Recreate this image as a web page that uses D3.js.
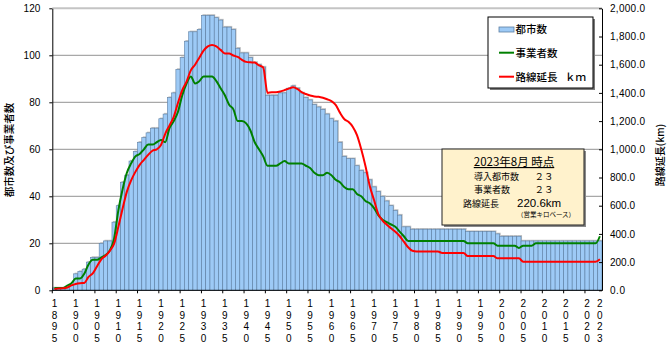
<!DOCTYPE html>
<html><head><meta charset="utf-8">
<script src="https://cdn.jsdelivr.net/npm/d3@7"></script>
<style>
html,body{margin:0;padding:0;background:#fff;}
svg{display:block;}
</style></head><body>
<svg id="chart" width="670" height="347"></svg>
<script>
const startYear = 1895, endYear = 2023;
const years = d3.range(startYear, endYear + 1);

// 都市数 (bars, left axis)
const cities = [
  1,1,1,1,2,7,8,9,12,14,
  14,20,21,21,29,36,46,49,55,59,
  63,65,67,69,69,73,75,82,84,94,
  99,106,110,110,111,117,117,117,116,115,
  112,112,111,103,101,101,99,97,96,95,
  83,83,83,84,84,86,87,86,84,82,
  81,79,78,77,75,73,72,63,57,56,
  56,53,51,50,47,44,42,40,38,36,
  34,32,27,27,26,26,26,26,26,26,
  26,26,26,26,26,26,26,25,25,25,
  25,25,25,25,24,23,23,23,23,23,
  21,21,21,21,21,21,21,21,21,21,
  21,21,21,21,21,21,21,21,21
];
// 事業者数 (green line, left axis)
const operators = [
  1,1,1,2,3,5,5,7,11,13,
  13,14,15,17,22,34,43,50,54,57,
  58,60,62,62,63,64,63,69,72,76,
  83,88,91,88,89,91,91,91,89,86,
  83,79,77,72,72,71,68,63,60,57,
  53,53,53,54,55,54,54,54,54,53,
  52,50,49,49,50,49,47,46,44,43,
  43,41,40,38,37,35,32,30,29,28,
  27,25,23,21,21,21,21,21,21,21,
  21,21,21,21,21,21,21,20,20,20,
  20,20,20,20,19,19,19,19,19,18,
  19,19,19,20,20,20,20,20,20,20,
  20,20,20,20,20,20,20,20,23
];
// 路線延長 km (red line, right axis)
const routeKm = [
  10,12,14,20,35,45,50,52,95,120,
  170,220,245,280,330,450,580,700,780,840,
  890,925,960,990,1000,1030,1110,1170,1230,1330,
  1420,1480,1560,1600,1650,1700,1730,1740,1730,1705,
  1680,1680,1665,1655,1635,1620,1617,1615,1595,1580,
  1400,1405,1405,1410,1420,1430,1440,1428,1405,1392,
  1382,1375,1372,1365,1355,1342,1315,1260,1215,1195,
  1160,1100,1000,880,740,640,540,495,465,440,
  415,385,345,305,280,275,275,275,275,275,
  275,265,265,265,265,265,265,243,243,243,
  243,243,243,243,227,227,227,227,227,227,
  203,203,203,203,203,203,203,203,203,203,
  203,203,203,203,203,203,203,203,220.6
];
const leftTicks = [0,20,40,60,80,100,120];
const rightTicks = [0,200,400,600,800,1000,1200,1400,1600,1800,2000];
const xLabelYears = years.filter(y => (y - startYear) % 5 === 0).concat([2023]);
const xTickYears = years.filter(y => (y - startYear) % 5 === 0);
const seriesNames = ["都市数", "事業者数", "路線延長\u2002 ｋｍ"];
const infoTitle = "2023年8月 時点";
const infoRows = [["導入都市数", "２３"], ["事業者数", "２３"], ["路線延長", "220.6km"]];
const infoNote = "（営業キロベース）";

const plot = {left: 52.3, right: 602, top: 8.3, bottom: 290.3};
const svg = d3.select("#chart");
const JP = "'Noto Sans CJK JP', 'Noto Sans', sans-serif";
const LAT = "'Liberation Sans', Arial, sans-serif";

const x = d3.scaleBand().domain(years).range([plot.left, plot.right]).padding(0);
const yL = d3.scaleLinear().domain([0, 120]).range([plot.bottom, plot.top]);
const yR = d3.scaleLinear().domain([0, 2000]).range([plot.bottom, plot.top]);
const bw = x.bandwidth();

// gridlines
svg.append("g").selectAll("line").data(leftTicks.filter(d => d > 0)).join("line")
  .attr("x1", plot.left).attr("x2", plot.right)
  .attr("y1", d => yL(d)).attr("y2", d => yL(d))
  .attr("stroke", d => d === 120 ? "#c4c4c4" : "#a8a8a8")
  .attr("stroke-width", d => d === 120 ? 2 : 1.3);

const barData = years.map((y, i) => ({year: y, v: cities[i]}));
// bar shadow
svg.append("g").selectAll("rect").data(barData).join("rect")
  .attr("x", d => x(d.year) + 1).attr("y", d => yL(d.v) - 1.2)
  .attr("width", bw).attr("height", d => plot.bottom - yL(d.v) + 1.2)
  .attr("fill", "#c3c3c3");
// bars
svg.append("g").selectAll("rect").data(barData).join("rect")
  .attr("x", d => x(d.year)).attr("y", d => yL(d.v))
  .attr("width", bw).attr("height", d => plot.bottom - yL(d.v))
  .attr("fill", "#9dcaf6").attr("stroke", "#5d7fa3").attr("stroke-width", 0.6);

// lines
const cx = i => x(years[i]) + bw / 2;
const lineG = d3.line().x((d, i) => cx(i)).y(d => yL(d)).curve(d3.curveMonotoneX);
const lineR = d3.line().x((d, i) => cx(i)).y(d => yR(d)).curve(d3.curveMonotoneX);
svg.append("path").attr("d", lineG(operators)).attr("fill", "none")
  .attr("stroke", "#008000").attr("stroke-width", 2);
svg.append("path").attr("d", lineR(routeKm)).attr("fill", "none")
  .attr("stroke", "#ff0000").attr("stroke-width", 2);

// left axis
const gL = svg.append("g").attr("transform", `translate(${plot.left},0)`)
  .call(d3.axisLeft(yL).tickValues(leftTicks).tickSizeInner(3).tickSizeOuter(0).tickPadding(9));
gL.select(".domain").attr("stroke", "#000");
gL.selectAll(".tick line").attr("stroke", "#000");
gL.selectAll("text").attr("font-family", LAT).attr("font-size", 10).attr("fill", "#000");

// right axis
const gR = svg.append("g").attr("transform", `translate(${plot.right},0)`)
  .call(d3.axisRight(yR).tickValues(rightTicks).tickSizeInner(-3).tickSizeOuter(0).tickPadding(8)
    .tickFormat(d3.format(",.1f")));
gR.select(".domain").attr("stroke", "#000");
gR.selectAll(".tick line").attr("stroke", "#000");
gR.selectAll("text").attr("font-family", LAT).attr("font-size", 10).attr("fill", "#000")
  .attr("textLength", function() { return this.textContent.length * 5; })
  .attr("lengthAdjust", "spacing");

// bottom axis
const gB = svg.append("g");
gB.append("line").attr("x1", plot.left).attr("x2", plot.right)
  .attr("y1", plot.bottom).attr("y2", plot.bottom).attr("stroke", "#000");
gB.selectAll("line.tk").data(xTickYears).join("line").attr("class", "tk")
  .attr("x1", d => x(d)).attr("x2", d => x(d))
  .attr("y1", plot.bottom).attr("y2", plot.bottom + 3).attr("stroke", "#000");
const lab = gB.selectAll("text").data(xLabelYears).join("text")
  .attr("font-family", LAT).attr("font-size", 10).attr("text-anchor", "middle").attr("fill", "#000");
lab.each(function(d) {
  const t = d3.select(this);
  String(d).split("").forEach((c, k) => {
    t.append("tspan").attr("x", x(d) + bw / 2).attr("y", 307 + k * 11.6).text(c);
  });
});

// axis titles
svg.append("text").attr("transform", "translate(13,150) rotate(-90)")
  .attr("text-anchor", "middle").attr("font-family", JP).attr("font-size", 10.5)
  .attr("font-weight", 500).attr("fill", "#000").text("都市数及び事業者数");
svg.append("text").attr("transform", "translate(664,155) rotate(-90)")
  .attr("text-anchor", "middle").attr("font-family", JP).attr("font-size", 10)
  .attr("font-weight", 500).attr("fill", "#000").text("路線延長(km)");

// legend
const lg = svg.append("g");
lg.append("rect").attr("x", 490).attr("y", 19).attr("width", 105).attr("height", 71).attr("fill", "#7a7a7a");
lg.append("rect").attr("x", 488).attr("y", 17).attr("width", 105).attr("height", 71)
  .attr("fill", "#fff").attr("stroke", "#000").attr("stroke-width", 1);
const ly = [29.5, 52.7, 76.7];
lg.append("rect").attr("x", 499).attr("y", ly[0] - 2.5).attr("width", 15).attr("height", 5)
  .attr("fill", "#9dcaf6").attr("stroke", "#5d7fa3").attr("stroke-width", 0.8);
lg.append("line").attr("x1", 499).attr("x2", 514).attr("y1", ly[1]).attr("y2", ly[1])
  .attr("stroke", "#008000").attr("stroke-width", 2);
lg.append("line").attr("x1", 499).attr("x2", 514).attr("y1", ly[2]).attr("y2", ly[2])
  .attr("stroke", "#ff0000").attr("stroke-width", 2);
lg.selectAll("text").data(seriesNames).join("text")
  .attr("x", 515.5).attr("y", (d, i) => ly[i] + 3.8)
  .attr("font-family", JP).attr("font-size", 10.5).attr("font-weight", 500).attr("fill", "#000")
  .text(d => d);

// info box
const ib = svg.append("g");
ib.append("rect").attr("x", 444).attr("y", 151).attr("width", 142).attr("height", 76).attr("fill", "#8a8a8a");
ib.append("rect").attr("x", 442).attr("y", 149).attr("width", 142).attr("height", 76)
  .attr("fill", "#fff2cc").attr("stroke", "#222").attr("stroke-width", 1);
ib.append("text").attr("x", 514).attr("y", 166).attr("text-anchor", "middle")
  .attr("font-family", JP).attr("font-size", 11.5).attr("fill", "#000")
  .attr("text-decoration", "underline").text(infoTitle);
const rowY = [180, 193, 206.5];
ib.selectAll("text.lbl").data(infoRows).join("text").attr("class", "lbl")
  .attr("x", (d, i) => i === 2 ? 463 : 474).attr("y", (d, i) => rowY[i])
  .attr("font-family", JP).attr("font-size", 9).attr("fill", "#000").text(d => d[0]);
ib.selectAll("text.val").data(infoRows).join("text").attr("class", "val")
  .attr("x", (d, i) => i === 2 ? 517 : 534.5).attr("y", (d, i) => rowY[i])
  .attr("font-family", (d, i) => i === 2 ? LAT : JP)
  .attr("font-size", (d, i) => i === 2 ? 11.5 : 9.5).attr("fill", "#000").text(d => d[1]);
ib.append("text").attr("x", 546).attr("y", 217).attr("text-anchor", "middle")
  .attr("font-family", JP).attr("font-size", 6.5).attr("fill", "#000").text(infoNote);
</script>
</body></html>
